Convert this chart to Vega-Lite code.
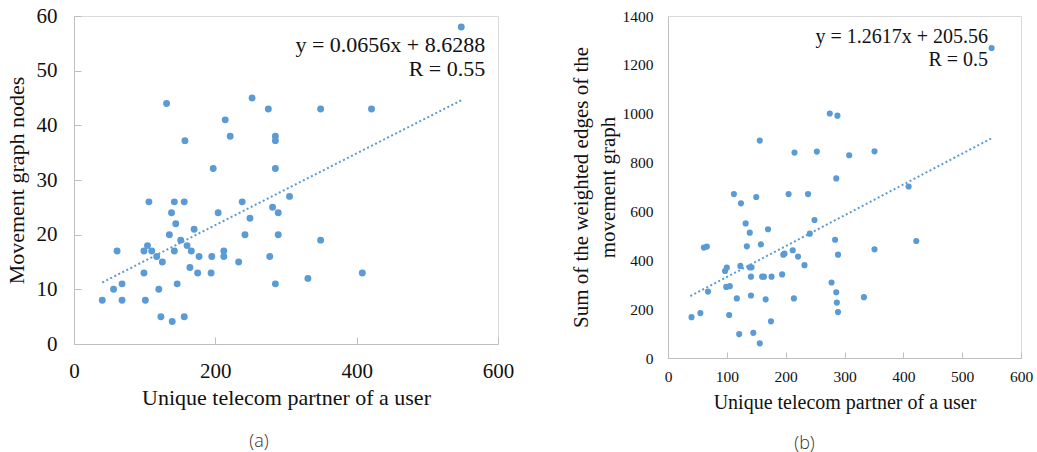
{
  "$schema": "https://vega.github.io/schema/vega-lite/v6.json",
  "autosize": {"type": "pad"},
  "padding": {"left": 4, "top": 4, "right": 0, "bottom": 0},
  "background": "white",
  "bounds": "flush",
  "spacing": 170,
  "config": {
    "view": {"stroke": "#d9d9d9", "strokeWidth": 1},
    "axis": {"grid": false, "labelFlush": false, "domainColor": "#bfbfbf", "tickColor": "#bfbfbf", "labelFont": "Liberation Serif", "titleFont": "Liberation Serif", "labelColor": "#111111", "titleColor": "#111111", "titleFontWeight": "normal"},
    "title": {"font": "Open Sans", "fontWeight": 300, "color": "#333333", "orient": "bottom", "fontSize": 18}
  },
  "datasets": {
    "a": [
      {"partners": 131, "nodes": 44}, {"partners": 252, "nodes": 45}, {"partners": 275, "nodes": 43}, {"partners": 349, "nodes": 43}, {"partners": 421, "nodes": 43},
      {"partners": 214, "nodes": 41}, {"partners": 221, "nodes": 38}, {"partners": 157, "nodes": 37.2}, {"partners": 285, "nodes": 38}, {"partners": 285, "nodes": 37.2},
      {"partners": 197, "nodes": 32.1}, {"partners": 285, "nodes": 32.1}, {"partners": 305, "nodes": 27}, {"partners": 106, "nodes": 26}, {"partners": 142, "nodes": 26},
      {"partners": 156, "nodes": 26}, {"partners": 238, "nodes": 26}, {"partners": 138, "nodes": 24}, {"partners": 204, "nodes": 24}, {"partners": 281, "nodes": 25},
      {"partners": 289, "nodes": 24}, {"partners": 249, "nodes": 23}, {"partners": 144, "nodes": 22}, {"partners": 170, "nodes": 21}, {"partners": 135, "nodes": 20},
      {"partners": 242, "nodes": 20}, {"partners": 289, "nodes": 20}, {"partners": 151, "nodes": 19}, {"partners": 349, "nodes": 19}, {"partners": 104, "nodes": 18},
      {"partners": 160, "nodes": 18}, {"partners": 61, "nodes": 17}, {"partners": 99, "nodes": 17}, {"partners": 110, "nodes": 17}, {"partners": 142, "nodes": 17},
      {"partners": 166, "nodes": 17}, {"partners": 212, "nodes": 17}, {"partners": 117, "nodes": 16}, {"partners": 177, "nodes": 16}, {"partners": 195, "nodes": 16},
      {"partners": 212, "nodes": 16}, {"partners": 277, "nodes": 16}, {"partners": 125, "nodes": 15}, {"partners": 233, "nodes": 15}, {"partners": 99, "nodes": 13},
      {"partners": 164, "nodes": 14}, {"partners": 175, "nodes": 13}, {"partners": 194, "nodes": 13}, {"partners": 68, "nodes": 11}, {"partners": 146, "nodes": 11},
      {"partners": 285, "nodes": 11}, {"partners": 331, "nodes": 12}, {"partners": 408, "nodes": 13}, {"partners": 56, "nodes": 10}, {"partners": 120, "nodes": 10},
      {"partners": 40, "nodes": 8}, {"partners": 68, "nodes": 8}, {"partners": 101, "nodes": 8}, {"partners": 123, "nodes": 5}, {"partners": 139, "nodes": 4.1},
      {"partners": 156, "nodes": 5}, {"partners": 548, "nodes": 58}
    ],
    "aTrend": [{"partners": 40, "nodes": 11.25}, {"partners": 550, "nodes": 44.71}],
    "b": [
      {"partners": 40, "edges": 167}, {"partners": 55, "edges": 184}, {"partners": 61, "edges": 452}, {"partners": 66, "edges": 456}, {"partners": 68, "edges": 272},
      {"partners": 97, "edges": 356}, {"partners": 100, "edges": 370}, {"partners": 99, "edges": 291}, {"partners": 105, "edges": 294}, {"partners": 104, "edges": 176},
      {"partners": 112, "edges": 671}, {"partners": 117, "edges": 244}, {"partners": 121, "edges": 98}, {"partners": 123, "edges": 377}, {"partners": 124, "edges": 633},
      {"partners": 132, "edges": 551}, {"partners": 134, "edges": 457}, {"partners": 139, "edges": 513}, {"partners": 139, "edges": 371}, {"partners": 142, "edges": 371},
      {"partners": 141, "edges": 333}, {"partners": 141, "edges": 256}, {"partners": 145, "edges": 103}, {"partners": 150, "edges": 659}, {"partners": 156, "edges": 60},
      {"partners": 156, "edges": 890}, {"partners": 158, "edges": 465}, {"partners": 160, "edges": 333}, {"partners": 163, "edges": 333}, {"partners": 166, "edges": 240},
      {"partners": 170, "edges": 527}, {"partners": 175, "edges": 150}, {"partners": 176, "edges": 333}, {"partners": 194, "edges": 342}, {"partners": 196, "edges": 423},
      {"partners": 198, "edges": 427}, {"partners": 205, "edges": 671}, {"partners": 212, "edges": 441}, {"partners": 214, "edges": 244}, {"partners": 215, "edges": 841},
      {"partners": 221, "edges": 415}, {"partners": 232, "edges": 380}, {"partners": 238, "edges": 671}, {"partners": 241, "edges": 509}, {"partners": 249, "edges": 565},
      {"partners": 253, "edges": 845}, {"partners": 278, "edges": 309}, {"partners": 284, "edges": 484}, {"partners": 286, "edges": 269}, {"partners": 286, "edges": 735},
      {"partners": 287, "edges": 227}, {"partners": 289, "edges": 423}, {"partners": 289, "edges": 188}, {"partners": 275, "edges": 1001}, {"partners": 288, "edges": 992},
      {"partners": 308, "edges": 830}, {"partners": 351, "edges": 846}, {"partners": 409, "edges": 702}, {"partners": 422, "edges": 479}, {"partners": 351, "edges": 445},
      {"partners": 333, "edges": 249}, {"partners": 550, "edges": 1269}
    ],
    "bTrend": [{"partners": 38, "edges": 253.5}, {"partners": 550, "edges": 899.5}]
  },
  "hconcat": [
    {
      "width": 424,
      "height": 328,
      "title": {"text": "(a)", "dx": -27, "offset": 25},
      "layer": [
        {
          "data": {"name": "aTrend"},
          "mark": {"type": "line", "color": "#5b9bd5", "strokeWidth": 2, "strokeDash": [2, 2.5]},
          "encoding": {
            "x": {"field": "partners", "type": "quantitative"},
            "y": {"field": "nodes", "type": "quantitative"}
          }
        },
        {
          "data": {"name": "a"},
          "mark": {"type": "point", "filled": true, "color": "#5b9bd5", "opacity": 1, "size": 48},
          "encoding": {
            "x": {"field": "partners", "type": "quantitative", "scale": {"domain": [0, 600], "nice": false},
              "axis": {"values": [0, 200, 400, 600], "tickSize": -7, "labelFontSize": 21, "labelPadding": 23, "title": "Unique  telecom partner of a user", "titleFontSize": 22, "titlePadding": 6}},
            "y": {"field": "nodes", "type": "quantitative", "scale": {"domain": [0, 60], "nice": false},
              "axis": {"values": [0, 10, 20, 30, 40, 50, 60], "tickSize": -7, "labelFontSize": 21, "labelPadding": 24, "title": "Movement  graph nodes", "titleFontSize": 22, "titlePadding": 8}}
          }
        },
        {
          "data": {"values": [{}]},
          "mark": {"type": "text", "align": "right", "baseline": "alphabetic", "font": "Liberation Serif", "fontSize": 22, "color": "#111111"},
          "encoding": {
            "x": {"datum": 582, "type": "quantitative"},
            "y": {"datum": 53.5, "type": "quantitative"},
            "text": {"value": "y = 0.0656x + 8.6288"}
          }
        },
        {
          "data": {"values": [{}]},
          "mark": {"type": "text", "align": "right", "baseline": "alphabetic", "font": "Liberation Serif", "fontSize": 22, "color": "#111111"},
          "encoding": {
            "x": {"datum": 582, "type": "quantitative"},
            "y": {"datum": 49, "type": "quantitative"},
            "text": {"value": "R = 0.55"}
          }
        }
      ]
    },
    {
      "width": 353,
      "height": 342,
      "title": {"text": "(b)", "dx": -40, "offset": 22},
      "layer": [
        {
          "data": {"name": "bTrend"},
          "mark": {"type": "line", "color": "#5b9bd5", "strokeWidth": 2, "strokeDash": [2, 2.5]},
          "encoding": {
            "x": {"field": "partners", "type": "quantitative"},
            "y": {"field": "edges", "type": "quantitative"}
          }
        },
        {
          "data": {"name": "b"},
          "mark": {"type": "point", "filled": true, "color": "#5b9bd5", "opacity": 1, "size": 38},
          "encoding": {
            "x": {"field": "partners", "type": "quantitative", "scale": {"domain": [0, 600], "nice": false},
              "axis": {"values": [0, 100, 200, 300, 400, 500, 600], "tickSize": -6, "labelFontSize": 15.5, "labelPadding": 17, "title": "Unique  telecom partner of a user", "titleFontSize": 20, "titlePadding": 8}},
            "y": {"field": "edges", "type": "quantitative", "scale": {"domain": [0, 1400], "nice": false},
              "axis": {"values": [0, 200, 400, 600, 800, 1000, 1200, 1400], "format": "d", "ticks": false, "labelFontSize": 15.5, "labelPadding": 15, "title": ["Sum of the weighted  edges of the", "movement graph"], "titleFontSize": 21, "titlePadding": 4, "titleLineHeight": 27}}
          }
        },
        {
          "data": {"values": [{}]},
          "mark": {"type": "text", "align": "right", "baseline": "alphabetic", "font": "Liberation Serif", "fontSize": 20, "color": "#111111"},
          "encoding": {
            "x": {"datum": 544, "type": "quantitative"},
            "y": {"datum": 1290, "type": "quantitative"},
            "text": {"value": "y = 1.2617x + 205.56"}
          }
        },
        {
          "data": {"values": [{}]},
          "mark": {"type": "text", "align": "right", "baseline": "alphabetic", "font": "Liberation Serif", "fontSize": 20, "color": "#111111"},
          "encoding": {
            "x": {"datum": 544, "type": "quantitative"},
            "y": {"datum": 1196, "type": "quantitative"},
            "text": {"value": "R = 0.5"}
          }
        }
      ]
    }
  ]
}
